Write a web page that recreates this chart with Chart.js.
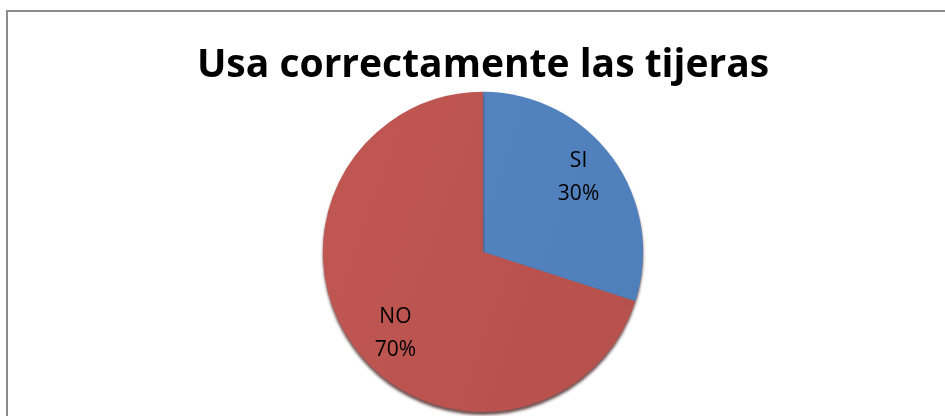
<!DOCTYPE html>
<html>
<head>
    <meta charset="utf-8">
    <script src="https://cdn.jsdelivr.net/npm/chart.js@4/dist/chart.umd.min.js"></script>
    <title>Usa correctamente las tijeras</title>
    <style>
        body { margin: 0; background: #fff; }
        #frame { position: absolute; left: 6px; top: 10px; width: 960px; height: 420px; border: 2px solid #8c8c8c; }
        #wrap { position: absolute; left: 0; top: 0; width: 945px; height: 416px; }
    </style>
</head>
<body>
    <div id="frame"></div>
    <div id="wrap"><canvas id="pie-chart" width="945" height="416"></canvas></div>
    <script>
        const categories = ['SI', 'NO'];
        const values = [30, 70];
        const sliceColors = [['#5a8bc6', '#4a7ab5'], ['#c65b56', '#b04c48']];
        const chartTitle = 'Usa correctamente las tijeras';

        // sombra bajo el pastel
        const shadowPlugin = {
            id: 'pieShadow',
            beforeDatasetsDraw(chart) {
                const ctx = chart.ctx;
                ctx.save();
                ctx.shadowColor = 'rgba(60,20,20,0.75)';
                ctx.shadowBlur = 3;
                ctx.shadowOffsetY = 3;
            },
            afterDatasetsDraw(chart) {
                chart.ctx.restore();
            }
        };

        // etiquetas: categoria + porcentaje (pequeño ajuste como en Excel)
        const labelNudge = [[1, -6], [7, 12]];
        const labelPlugin = {
            id: 'sliceLabels',
            afterDraw(chart) {
                const ctx = chart.ctx;
                const meta = chart.getDatasetMeta(0);
                const total = values.reduce((a, b) => a + b, 0);
                ctx.save();
                ctx.font = '21px "Open Sans", sans-serif';
                ctx.fillStyle = '#000';
                ctx.textAlign = 'center';
                ctx.textBaseline = 'middle';
                meta.data.forEach((arc, i) => {
                    const mid = (arc.startAngle + arc.endAngle) / 2;
                    const d = arc.outerRadius * 0.73;
                    const x = arc.x + Math.cos(mid) * d + labelNudge[i][0];
                    const y = arc.y + Math.sin(mid) * d + labelNudge[i][1];
                    ctx.fillText(categories[i], x, y - 16);
                    ctx.fillText(Math.round(values[i] / total * 100) + '%', x, y + 17);
                });
                ctx.restore();
            }
        };

        function sliceFill(context) {
            const area = context.chart.chartArea;
            const c = sliceColors[context.dataIndex];
            if (!area) return c[0];
            const g = context.chart.ctx.createLinearGradient(area.left + 20, area.top, area.right - 20, area.bottom);
            g.addColorStop(0, c[0]);
            g.addColorStop(1, c[1]);
            return g;
        }

        new Chart(document.getElementById('pie-chart'), {
            type: 'pie',
            data: {
                labels: categories,
                datasets: [{
                    data: values,
                    backgroundColor: sliceFill,
                    borderWidth: 0
                }]
            },
            options: {
                responsive: false,
                animation: false,
                layout: { padding: { left: 21, right: 0, bottom: 4 } },
                plugins: {
                    legend: { display: false },
                    tooltip: { enabled: false },
                    title: {
                        display: true,
                        text: chartTitle,
                        color: '#000',
                        font: { family: '"Open Sans", sans-serif', size: 39, weight: 'bold' },
                        padding: { top: 42, bottom: 3 }
                    }
                }
            },
            plugins: [shadowPlugin, labelPlugin]
        });
    </script>
</body>
</html>
